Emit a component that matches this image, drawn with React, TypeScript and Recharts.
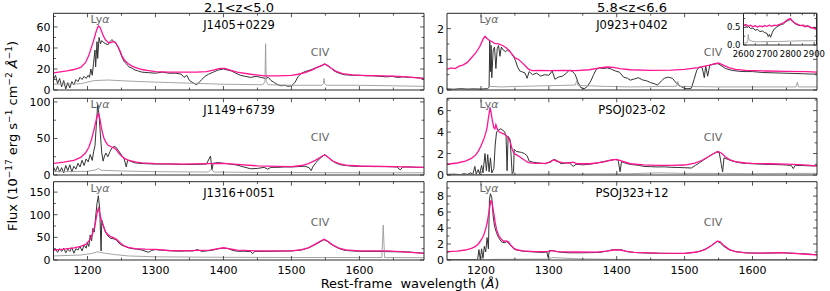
import React from 'react';
import { LineChart, Line, XAxis, YAxis, CartesianGrid } from 'recharts';

// ---- J1405+0229 ----
const j1405FluxW = [
  1150,1153,1156,1159,1162,1165,1168,1171,1174,1177,
  1180,1183,1186,1189,1192,1195,1198,1201,1203,1205,
  1207,1209,1211,1212,1214,1215,1217,1219,1221,1224,
  1227,1230,1233,1236,1239,1242,1245,1248,1251,1254,
  1257,1261,1265,1270,1275,1280,1290,1300,1310,1320,
  1330,1338,1342,1346,1350,1355,1360,1364,1368,1373,
  1378,1385,1392,1400,1406,1412,1418,1425,1432,1440,
  1448,1455,1462,1466,1470,1475,1480,1485,1490,1495,
  1500,1505,1510,1515,1520,1525,1530,1535,1540,1545,
  1549,1553,1558,1563,1570,1578,1590,1600,1610,1620,
  1630,1640,1648,1656,1665,1672,1680,1688,1695];
const j1405Flux = [
  10,14,6,11,3,9,1,7,2,8,
  5,10,8,12,10,13,11,14,12,20,
  14,26,38,22,46,30,50,44,47,45,
  44,43,46,48,46,44,41,36,31,27,
  25,22,21,19,18,17,16.5,16,17,16,
  16,15,12,14,9,7,5,7,10,13,
  15,17,19,20,19,18,16,14,13,12,
  13,12,11,12,9,7,5,4,4.5,3.5,
  4,7,13,16,17.5,18.5,19.5,21,22,23.5,
  25,23,21,18,16,14.5,14,14,13.5,13.5,
  13,12.5,13,12,12.5,12,12,11.5,11];
const j1405FitW = [
  1150,1160,1170,1180,1190,1197,1202,1206,1209,1212,
  1214,1216,1218,1220,1223,1226,1230,1234,1238,1241,
  1245,1248,1251,1255,1260,1265,1270,1280,1290,1300,
  1320,1340,1360,1375,1385,1395,1402,1410,1420,1440,
  1460,1480,1500,1510,1520,1530,1538,1545,1549,1553,
  1558,1565,1575,1590,1600,1620,1650,1670,1685,1695];
const j1405Fit = [
  16.4,17.3,18.3,19.5,21.5,26,33,41,47,54,
  58,61,60,57,52,48,45.5,45,46,45.5,
  41,37,32,28,25,23,21.5,19.5,18.5,17.5,
  17,17,17,17.5,19,20.5,20.5,19,17,15,
  13.5,13.5,14,15,16.5,19,21.5,23.5,24.5,23.5,
  21,18,15.5,14.3,14,13.6,13.3,12.5,11.5,11];
const j1405ErrW = [1150,1190,1200,1210,1230,1260,1300,1360,1400,1458,1461,1462,1463,1466,1500,1545,1547,1548,1549,1551,1600,1650,1695];
const j1405Err = [5.5,6,7.5,9,9.5,8.5,7.5,6.3,5.5,5,8,44,8,5,4.5,4.5,6,11,6,4.5,4.5,4,3.5];

// ---- J1149+6739 ----
const j1149FluxW = [
  1150,1153,1156,1159,1162,1165,1168,1171,1174,1177,
  1180,1183,1186,1189,1192,1195,1198,1201,1204,1207,
  1209,1211,1213,1215,1217,1219,1221,1223,1225,1227,
  1230,1233,1236,1239,1242,1245,1248,1251,1254,1257,
  1259,1263,1268,1275,1285,1300,1320,1340,1360,1375,
  1381,1383,1385,1392,1400,1410,1420,1430,1440,1450,
  1460,1465,1470,1480,1490,1500,1510,1520,1526,1529,
  1532,1536,1541,1545,1549,1553,1558,1564,1572,1580,
  1590,1600,1620,1640,1655,1660,1664,1675,1685,1695];
const j1149Flux = [
  11,5,12,4,10,3,13,6,14,4,
  12,8,16,11,20,13,22,18,28,20,
  32,40,68,96,82,55,30,19,26,30,
  25,32,37,39,38,34,30,26,22,11,
  20,19,17,16,15.5,15,15,14.5,14.5,15,
  26,7,16,17,16,15,13.5,11,8.5,9,
  10.5,8,10.5,10.5,11,11,11.5,12,10,6,
  12,17,22,25,28,25,21,17,14,13,
  12,12,11.5,11.5,11,7,11,11,10.5,10.5];
const j1149FitW = [
  1150,1165,1180,1190,1197,1202,1206,1209,1212,1214,
  1216,1218,1220,1222,1224,1227,1230,1234,1238,1242,
  1246,1250,1255,1260,1270,1280,1300,1340,1380,1400,
  1420,1450,1480,1500,1515,1525,1535,1542,1547,1550,
  1555,1560,1570,1580,1600,1650,1695];
const j1149Fit = [
  16,17.5,20,24,30,38,49,60,72,80,
  84,78,67,58,51,45,41,39,37.5,35,
  30,26,22.5,20.5,18,16.5,15.5,15,15.5,16,
  14.5,12.5,11.8,11.5,13,15.5,20,24,27,27,
  23.5,19.5,15.5,13.5,12.3,11.4,10.5];
const j1149ErrW = [1150,1200,1212,1216,1220,1250,1300,1378,1382,1386,1450,1550,1600,1695];
const j1149Err = [4.5,5,7,9,6.5,5.5,4.5,4,8,4,3.5,3.2,3,3];

// ---- J1316+0051 ----
const j1316FluxW = [
  1150,1153,1156,1159,1162,1165,1168,1171,1174,1177,
  1180,1183,1186,1189,1192,1195,1198,1200,1202,1204,
  1206,1208,1210,1212,1214,1216,1218,1220,1221,1223,
  1226,1230,1234,1238,1242,1246,1250,1255,1260,1266,
  1272,1280,1286,1290,1294,1300,1308,1315,1325,1335,
  1345,1355,1362,1368,1375,1385,1393,1400,1407,1414,
  1422,1430,1440,1443,1446,1460,1480,1500,1515,1525,
  1535,1542,1548,1553,1558,1565,1572,1580,1595,1610,
  1625,1640,1660,1675,1685,1695];
const j1316Flux = [
  20,24,17,25,19,26,16,24,19,27,
  15,25,22,30,20,33,26,38,30,55,
  42,70,62,95,125,142,112,20,88,78,
  63,53,48,47,45,38,33,30,27,25,
  24,22,19,17,21,23,22,21,20,19.5,
  20,20,23,19,20,22,25,26,25,21,
  19,19.5,18.5,14,19,19,19.5,20,22,27,
  34,40,45,41,35,29,24,21,19.5,19,
  19,18.5,18,17.5,16,15];
const j1316FitW = [
  1150,1165,1180,1190,1198,1203,1207,1210,1212,1214,
  1216,1218,1220,1223,1226,1230,1235,1239,1243,1248,
  1253,1260,1270,1285,1300,1320,1350,1380,1392,1400,
  1408,1420,1450,1500,1515,1525,1535,1543,1548,1553,
  1560,1570,1580,1600,1640,1660,1680,1695];
const j1316Fit = [
  22,24,27,30,35,44,56,70,85,103,
  114,104,90,76,64,56,51,49,45,38,
  32,28,25,24,23.5,21,20.6,22,25,27,
  25,22,20,20,23,27,35,42,46,42,
  34,26,22.5,20,20,18.5,16.5,14.7];
const j1316ErrW = [1150,1190,1205,1215,1225,1240,1260,1300,1400,1500,1633,1635,1637,1695];
const j1316Err = [9,11,14,18,15,12,9,7,6,5.5,5.5,77,5.5,5];

// ---- J0923+0402 ----
const j0923FluxW = [
  1150,1160,1170,1180,1190,1200,1210,1212,1213,1214,
  1215,1216,1218,1220,1222,1224,1226,1228,1230,1233,
  1236,1239,1242,1245,1248,1251,1254,1257,1260,1265,
  1268,1271,1276,1282,1288,1294,1300,1305,1309,1314,
  1320,1326,1330,1335,1339,1343,1347,1352,1357,1362,
  1366,1370,1375,1380,1386,1392,1398,1404,1410,1416,
  1420,1426,1432,1438,1444,1450,1456,1460,1466,1470,
  1476,1482,1488,1494,1500,1505,1510,1514,1518,1522,
  1526,1529,1531,1534,1537,1542,1549,1555,1560,1570,
  1580,1590,1600,1615,1630,1645,1660,1675,1685,1695];
const j0923Flux = [
  0.04,0.02,0.05,0.03,0.04,0.03,0.05,0.1,1.6,0.6,
  1.45,0.4,1.3,1.4,0.7,1.35,1.45,1.1,1.4,1.3,
  1.25,1.3,1.25,1.2,1.1,0.95,0.75,0.62,0.6,0.55,
  0.38,0.6,0.5,0.55,0.45,0.5,0.48,0.62,0.35,0.42,
  0.45,0.55,0.65,0.6,0.5,0.25,0.08,0.04,0.12,0.3,
  0.5,0.68,0.72,0.7,0.72,0.68,0.62,0.58,0.42,0.38,
  0.32,0.36,0.4,0.33,0.3,0.24,0.2,0.16,0.3,0.38,
  0.42,0.38,0.22,0.12,0.05,0.04,0.06,0.35,0.65,0.75,
  0.72,0.4,0.78,0.45,0.8,0.84,0.86,0.78,0.7,0.64,
  0.61,0.6,0.6,0.57,0.56,0.55,0.54,0.53,0.52,0.52];
const j0923FitW = [
  1150,1156,1162,1168,1174,1180,1186,1192,1198,1203,
  1206,1209,1212,1216,1220,1226,1232,1237,1242,1246,
  1250,1255,1260,1265,1270,1275,1285,1300,1320,1340,
  1360,1375,1385,1395,1405,1420,1450,1480,1500,1520,
  1535,1545,1550,1556,1565,1575,1590,1620,1650,1680,1695];
const j0923Fit = [
  0.67,0.72,0.7,0.78,0.82,0.9,1.05,1.2,1.4,1.65,
  1.75,1.68,1.62,1.58,1.52,1.5,1.45,1.38,1.28,1.15,
  1.05,1.0,0.9,0.8,0.68,0.63,0.64,0.63,0.64,0.63,
  0.66,0.72,0.75,0.74,0.7,0.66,0.64,0.65,0.67,0.73,
  0.8,0.86,0.88,0.82,0.73,0.67,0.64,0.62,0.61,0.6,0.58];
const j0923ErrW = [1150,1210,1213,1230,1260,1300,1339,1341,1343,1380,1420,1488,1490,1492,1550,1600,1664,1666,1668,1695];
const j0923Err = [0.03,0.03,0.12,0.1,0.12,0.14,0.16,0.3,0.15,0.12,0.1,0.12,0.28,0.12,0.1,0.1,0.1,0.25,0.1,0.1];

// inset: MgII region of J0923+0402
const mgFluxW = [
  2600,2608,2615,2622,2630,2640,2650,2660,2670,2680,
  2690,2700,2705,2710,2715,2722,2730,2740,2750,2760,
  2770,2780,2790,2800,2810,2820,2830,2840,2850,2860,
  2870,2880,2890,2900,2910];
const mgFlux = [
  0.58,0.55,0.5,0.52,0.47,0.48,0.42,0.44,0.38,0.4,
  0.35,0.33,0.24,0.3,0.22,0.35,0.45,0.5,0.55,0.58,
  0.6,0.66,0.7,0.72,0.65,0.6,0.57,0.55,0.56,0.52,
  0.55,0.5,0.48,0.5,0.47];
const mgFitW = [
  2600,2610,2620,2630,2640,2650,2660,2670,2680,2690,
  2700,2710,2720,2730,2740,2750,2760,2770,2780,2790,
  2800,2805,2815,2825,2835,2845,2855,2865,2875,2885,
  2895,2905,2910];
const mgFit = [
  0.55,0.58,0.53,0.56,0.52,0.55,0.51,0.54,0.52,0.55,
  0.53,0.56,0.53,0.56,0.55,0.58,0.6,0.63,0.68,0.73,
  0.75,0.7,0.64,0.6,0.57,0.55,0.56,0.52,0.54,0.5,
  0.49,0.45,0.48];
const mgErrW = [2600,2610,2618,2620,2622,2626,2640,2660,2700,2750,2800,2850,2910];
const mgErr = [0.05,0.06,0.08,0.3,0.2,0.13,0.1,0.09,0.1,0.1,0.11,0.12,0.12];

// ---- PSOJ023-02 ----
const p023FluxW = [
  1150,1160,1170,1175,1180,1185,1188,1191,1193,1196,
  1198,1201,1203,1206,1208,1210,1212,1214,1216,1219,
  1221,1223,1226,1229,1232,1235,1237,1238.5,1240,1243,
  1245,1246,1248,1249,1252,1256,1260,1264,1268,1271,
  1276,1282,1288,1295,1302,1308,1312,1318,1324,1330,
  1336,1340,1350,1360,1370,1380,1390,1397,1402,1405,
  1407,1415,1425,1433,1440,1450,1460,1470,1480,1490,
  1500,1510,1516,1522,1528,1535,1541,1547,1551,1554,
  1556,1558,1564,1570,1580,1590,1600,1615,1630,1645,
  1657,1660,1663,1675,1685,1695];
const p023Flux = [
  0.05,0.08,0.04,0.12,0.06,0.2,0.05,0.8,0.1,0.5,
  0.1,0.9,0.2,2.0,0.4,1.9,0.3,1.6,0.2,0.6,
  2.8,4.0,4.2,4.3,4.2,4.0,3.6,0.4,3.6,3.3,
  1.2,0.1,0.3,2.4,2.2,2.15,2.1,2.0,1.8,1.3,
  1.2,1.15,1.1,1.05,1.25,1.45,1.35,1.05,1.1,1.15,
  0.8,1.0,0.95,1.0,1.1,1.25,1.35,1.45,1.4,0.3,
  1.25,1.05,0.95,0.9,0.8,0.78,0.75,0.76,0.72,0.7,
  0.68,0.65,0.9,1.15,1.4,1.7,1.95,2.15,2.1,1.0,
  0.3,1.6,1.45,1.3,1.15,1.08,1.05,1.0,0.98,0.95,
  0.9,0.6,0.9,0.88,0.85,0.85];
const p023FitW = [
  1150,1165,1177,1186,1192,1196,1200,1204,1207,1209,
  1211,1213.5,1215,1217,1219,1220.5,1222,1224,1227,1231,
  1236,1240,1243,1246,1249,1253,1258,1265,1270,1280,
  1295,1302,1307,1312,1320,1330,1336,1342,1360,1380,
  1392,1400,1408,1420,1440,1460,1480,1500,1515,1525,
  1535,1543,1549,1554,1560,1567,1575,1590,1600,1625,
  1650,1675,1695];
const p023Fit = [
  1.0,1.12,1.3,1.55,1.85,2.2,2.7,3.3,3.9,4.4,
  5.3,6.3,5.8,5.0,4.4,4.3,4.7,4.3,4.0,3.9,
  3.75,3.5,3.1,2.4,2.0,1.85,1.65,1.35,1.15,1.08,
  1.08,1.2,1.42,1.28,1.15,1.12,1.2,1.05,1.05,1.2,
  1.4,1.45,1.3,1.05,0.95,0.9,0.9,0.93,1.1,1.35,
  1.7,2.0,2.2,2.05,1.7,1.4,1.24,1.12,1.08,1.05,
  1.02,0.95,0.85];
const p023ErrW = [1150,1190,1215,1250,1300,1350,1420,1460,1500,1560,1600,1650,1695];
const p023Err = [0.03,0.04,0.05,0.08,0.1,0.1,0.12,0.2,0.15,0.15,0.12,0.15,0.15];

// ---- PSOJ323+12 ----
const p323FluxW = [
  1150,1170,1190,1195,1197,1199,1201,1203,1205,1207,
  1209,1211,1212.5,1214,1216,1218,1220,1223,1226,1230,
  1234,1238,1242,1246,1250,1256,1262,1270,1280,1290,
  1297,1299,1301,1306,1312,1320,1330,1345,1360,1375,
  1388,1395,1402,1408,1415,1425,1440,1460,1480,1500,
  1515,1525,1535,1542,1548,1553,1558,1565,1575,1590,
  1610,1630,1645,1660,1680,1695];
const p323Flux = [
  0.02,0.03,0.04,0.02,1.3,0.1,1.4,0.2,1.7,1.0,
  2.8,1.4,7.5,8.3,7.8,5.5,4.2,3.4,2.8,2.3,
  2.15,2.3,2.0,1.6,1.3,1.2,1.1,1.05,1.0,0.95,
  1.0,0.3,1.2,1.15,1.05,0.95,0.9,0.9,0.92,0.95,
  1.15,1.3,1.3,1.25,1.05,0.95,0.88,0.85,0.82,0.82,
  0.95,1.15,1.55,1.95,2.35,2.1,1.7,1.3,1.05,0.9,
  0.85,0.88,0.9,0.85,0.75,0.65];
const p323FitW = [
  1150,1165,1177,1186,1192,1197,1201,1204,1207,1209,
  1211,1212.5,1214.5,1216,1217.5,1219,1221,1223,1226,1229,
  1233,1237,1240,1244,1248,1254,1262,1280,1298,1305,
  1312,1340,1370,1385,1395,1405,1413,1425,1460,1500,
  1518,1530,1540,1548,1552,1558,1566,1575,1590,1610,
  1640,1660,1680,1695];
const p323Fit = [
  1.04,1.12,1.25,1.45,1.7,2.1,2.6,3.1,3.9,4.6,
  5.6,6.4,7.4,7.3,6.6,5.8,4.7,3.8,3.1,2.7,
  2.35,2.4,2.3,1.85,1.5,1.25,1.13,1.06,1.05,1.17,
  1.05,1.0,0.98,1.1,1.25,1.25,1.1,0.96,0.85,0.83,
  1.0,1.3,1.85,2.35,2.3,1.8,1.3,1.05,0.9,0.85,
  0.92,0.84,0.72,0.63];
const p323ErrW = [1150,1210,1220,1260,1300,1305,1320,1340,1400,1500,1600,1695];
const p323Err = [0.02,0.03,0.08,0.1,0.12,0.3,0.25,0.15,0.08,0.06,0.06,0.06];

// ticks
const waveTicks = [1200,1250,1300,1350,1400,1450,1500,1550,1600,1650];
const waveLabels = [1200,1300,1400,1500,1600];
const mgTicks = [2600,2650,2700,2750,2800,2850,2900];
const mgLabels = [2600,2700,2800,2900];

const W = 830;
const H = 291;
const FRAME = '#2a2a2a';
const PINK = '#ff1493';
const DARK = '#333';
const GREY = '#9a9a9a';
const FONT = 'DejaVu Sans';

const pts = (w: number[], v: number[]) => w.map((x, i) => ({ w: x, v: v[i] }));

type Side = 'b' | 't' | 'l' | 'r';

function makeTick(side: Side, major: number[], showLabel: boolean, fmt: (v: number) => string, fs: number, len = 4) {
  return (p: any) => {
    const v = p.payload.value;
    const isMajor = major.includes(v);
    const l = isMajor ? len : len * 0.6;
    const { x, y } = p;
    let c = [x, y, x, y];
    if (side === 'b') c = [x, y, x, y - l];
    if (side === 't') c = [x, y, x, y + l];
    if (side === 'l') c = [x, y, x + l, y];
    if (side === 'r') c = [x, y, x - l, y];
    return (
      <g>
        <line x1={c[0]} y1={c[1]} x2={c[2]} y2={c[3]} stroke={FRAME} strokeWidth={0.8} />
        {showLabel && isMajor && side === 'b' && (
          <text x={x} y={y + fs + 3} textAnchor="middle" fontSize={fs} fontFamily={FONT} fill="#000">{fmt(v)}</text>
        )}
        {showLabel && isMajor && side === 'l' && (
          <text x={x - 3} y={y} dy="0.36em" textAnchor="end" fontSize={fs} fontFamily={FONT} fill="#000">{fmt(v)}</text>
        )}
      </g>
    );
  };
}

interface Series { data: { w: number; v: number }[]; color: string; width: number }

interface PanelProps {
  box: [number, number, number, number];
  xDomain: [number, number];
  xTicks: number[];
  xMajor: number[];
  showX: boolean;
  yMax: number;
  yTicks: number[];
  yMajor: number[];
  yFmt?: (v: number) => string;
  series: Series[];
  fs?: number;
  bg?: boolean;
  tickLen?: number;
}

// axes are 1px thick (a 0px axis is not drawn); margins are shrunk by 1px to keep the plot box where it belongs
function Panel({ box, xDomain, xTicks, xMajor, showX, yMax, yTicks, yMajor, yFmt = (v) => String(v), series, fs = 11, bg, tickLen = 4 }: PanelProps) {
  const margin = { left: box[0] - 1, top: box[1] - 1, right: W - box[2] - 1, bottom: H - box[3] - 1 };
  const xf = (v: number) => String(v);
  const common = { type: 'number' as const, allowDataOverflow: true, interval: 0 as const, tickSize: 0, tickMargin: 0, tickLine: false, axisLine: { stroke: FRAME } };
  return (
    <div style={{ position: 'absolute', left: 0, top: 0 }}>
      <LineChart width={W} height={H} margin={margin}>
        {bg && <CartesianGrid xAxisId="b" yAxisId="l" fill="#fff" stroke="none" horizontal={false} vertical={false} />}
        <XAxis xAxisId="b" dataKey="w" domain={xDomain} ticks={xTicks} height={1} {...common}
          tick={makeTick('b', xMajor, showX, xf, fs, tickLen)} />
        <XAxis xAxisId="t" orientation="top" dataKey="w" domain={xDomain} ticks={xTicks} height={1} {...common}
          tick={makeTick('t', xMajor, false, xf, fs, tickLen)} />
        <YAxis yAxisId="l" domain={[0, yMax]} ticks={yTicks} width={1} {...common}
          tick={makeTick('l', yMajor, true, yFmt, fs, tickLen)} />
        <YAxis yAxisId="r" orientation="right" domain={[0, yMax]} ticks={yTicks} width={1} {...common}
          tick={makeTick('r', yMajor, false, yFmt, fs, tickLen)} />
        {series.map((s, i) => (
          <Line key={i} xAxisId="b" yAxisId="l" data={s.data} dataKey="v" type="linear" stroke={s.color}
            strokeWidth={s.width} dot={false} activeDot={false} isAnimationActive={false} />
        ))}
      </LineChart>
    </div>
  );
}

const lines = (fw: number[], f: number[], ew: number[], e: number[], mw: number[], m: number[]): Series[] => [
  { data: pts(fw, f), color: DARK, width: 1 },
  { data: pts(ew, e), color: GREY, width: 0.9 },
  { data: pts(mw, m), color: PINK, width: 1.3 },
];

const LX0 = 53.5, LX1 = 424, RX0 = 447, RX1 = 817;
const ROWS: [number, number][] = [[13.3, 90], [98.3, 175], [181.7, 260]];
const WAVE: [number, number] = [1150, 1695];

const panels: PanelProps[] = [
  { box: [LX0, ROWS[0][0], LX1, ROWS[0][1]], xDomain: WAVE, xTicks: waveTicks, xMajor: waveLabels, showX: false,
    yMax: 73, yTicks: [0,10,20,30,40,50,60,70], yMajor: [0,20,40,60],
    series: lines(j1405FluxW, j1405Flux, j1405ErrW, j1405Err, j1405FitW, j1405Fit) },
  { box: [LX0, ROWS[1][0], LX1, ROWS[1][1]], xDomain: WAVE, xTicks: waveTicks, xMajor: waveLabels, showX: false,
    yMax: 105, yTicks: [0,25,50,75,100], yMajor: [0,50,100],
    series: lines(j1149FluxW, j1149Flux, j1149ErrW, j1149Err, j1149FitW, j1149Fit) },
  { box: [LX0, ROWS[2][0], LX1, ROWS[2][1]], xDomain: WAVE, xTicks: waveTicks, xMajor: waveLabels, showX: true,
    yMax: 173, yTicks: [0,25,50,75,100,125,150], yMajor: [0,50,100,150],
    series: lines(j1316FluxW, j1316Flux, j1316ErrW, j1316Err, j1316FitW, j1316Fit) },
  { box: [RX0, ROWS[0][0], RX1, ROWS[0][1]], xDomain: WAVE, xTicks: waveTicks, xMajor: waveLabels, showX: false,
    yMax: 2.5, yTicks: [0,0.5,1,1.5,2], yMajor: [0,1,2],
    series: lines(j0923FluxW, j0923Flux, j0923ErrW, j0923Err, j0923FitW, j0923Fit) },
  { box: [RX0, ROWS[1][0], RX1, ROWS[1][1]], xDomain: WAVE, xTicks: waveTicks, xMajor: waveLabels, showX: false,
    yMax: 7.15, yTicks: [0,1,2,3,4,5,6,7], yMajor: [0,2,4,6],
    series: lines(p023FluxW, p023Flux, p023ErrW, p023Err, p023FitW, p023Fit) },
  { box: [RX0, ROWS[2][0], RX1, ROWS[2][1]], xDomain: WAVE, xTicks: waveTicks, xMajor: waveLabels, showX: true,
    yMax: 9.8, yTicks: [0,1,2,3,4,5,6,7,8,9], yMajor: [0,2,4,6,8],
    series: lines(p323FluxW, p323Flux, p323ErrW, p323Err, p323FitW, p323Fit) },
  { box: [743.5, 13.3, 816.5, 45], xDomain: [2600, 2910], xTicks: mgTicks, xMajor: mgLabels, showX: true,
    yMax: 0.9, yTicks: [0,0.25,0.5,0.75], yMajor: [0,0.5], yFmt: (v) => v.toFixed(1), fs: 8.5, bg: true, tickLen: 3,
    series: lines(mgFluxW, mgFlux, mgErrW, mgErr, mgFitW, mgFit) },
];

const names = [
  ['J1405+0229', 'J1149+6739', 'J1316+0051'],
  ['J0923+0402', 'PSOJ023-02', 'PSOJ323+12'],
];

function Annotations() {
  const cols = [{ cx: 239, lya: 100, civ: 320 }, { cx: 632, lya: 489, civ: 713 }];
  return (
    <svg width={W} height={H} style={{ position: 'absolute', left: 0, top: 0 }} fontFamily={FONT}>
      <text x={239} y={11.5} textAnchor="middle" fontSize={13} fill="#000">2.1&lt;z&lt;5.0</text>
      <text x={632} y={11.5} textAnchor="middle" fontSize={13} fill="#000">5.8&lt;z&lt;6.6</text>
      {cols.map((c, ci) =>
        ROWS.map((r, ri) => (
          <g key={`${ci}-${ri}`}>
            <text x={c.cx} y={r[0] + 15.5} textAnchor="middle" fontSize={11.5} fill="#000">{names[ci][ri]}</text>
            <text x={c.lya} y={r[0] + 10} textAnchor="middle" fontSize={11} fill="#666">
              Ly<tspan fontStyle="italic">α</tspan>
            </text>
            <text x={c.civ} y={r[1] - 34} textAnchor="middle" fontSize={11} fill="#666">CIV</text>
          </g>
        ))
      )}
      <text transform="translate(17,136) rotate(-90)" textAnchor="middle" fontSize={13} fill="#000">
        Flux (10<tspan fontSize={9} dy={-5}>−17</tspan><tspan dy={5}> erg s</tspan><tspan fontSize={9} dy={-5}>−1</tspan>
        <tspan dy={5}> cm</tspan><tspan fontSize={9} dy={-5}>−2</tspan><tspan dy={5}> </tspan>
        <tspan fontStyle="italic">Å</tspan><tspan fontSize={9} dy={-5}>−1</tspan><tspan dy={5}>)</tspan>
      </text>
      <text x={410} y={288} textAnchor="middle" fontSize={13} fill="#000" style={{ whiteSpace: 'pre' }}>
        Rest-frame  wavelength (<tspan fontStyle="italic">Å</tspan>)
      </text>
    </svg>
  );
}

export default function App() {
  return (
    <div style={{ position: 'absolute', left: 0, top: 0, width: W, height: H, background: '#fff', overflow: 'hidden', fontFamily: FONT }}>
      {panels.map((p, i) => <Panel key={i} {...p} />)}
      <Annotations />
    </div>
  );
}
